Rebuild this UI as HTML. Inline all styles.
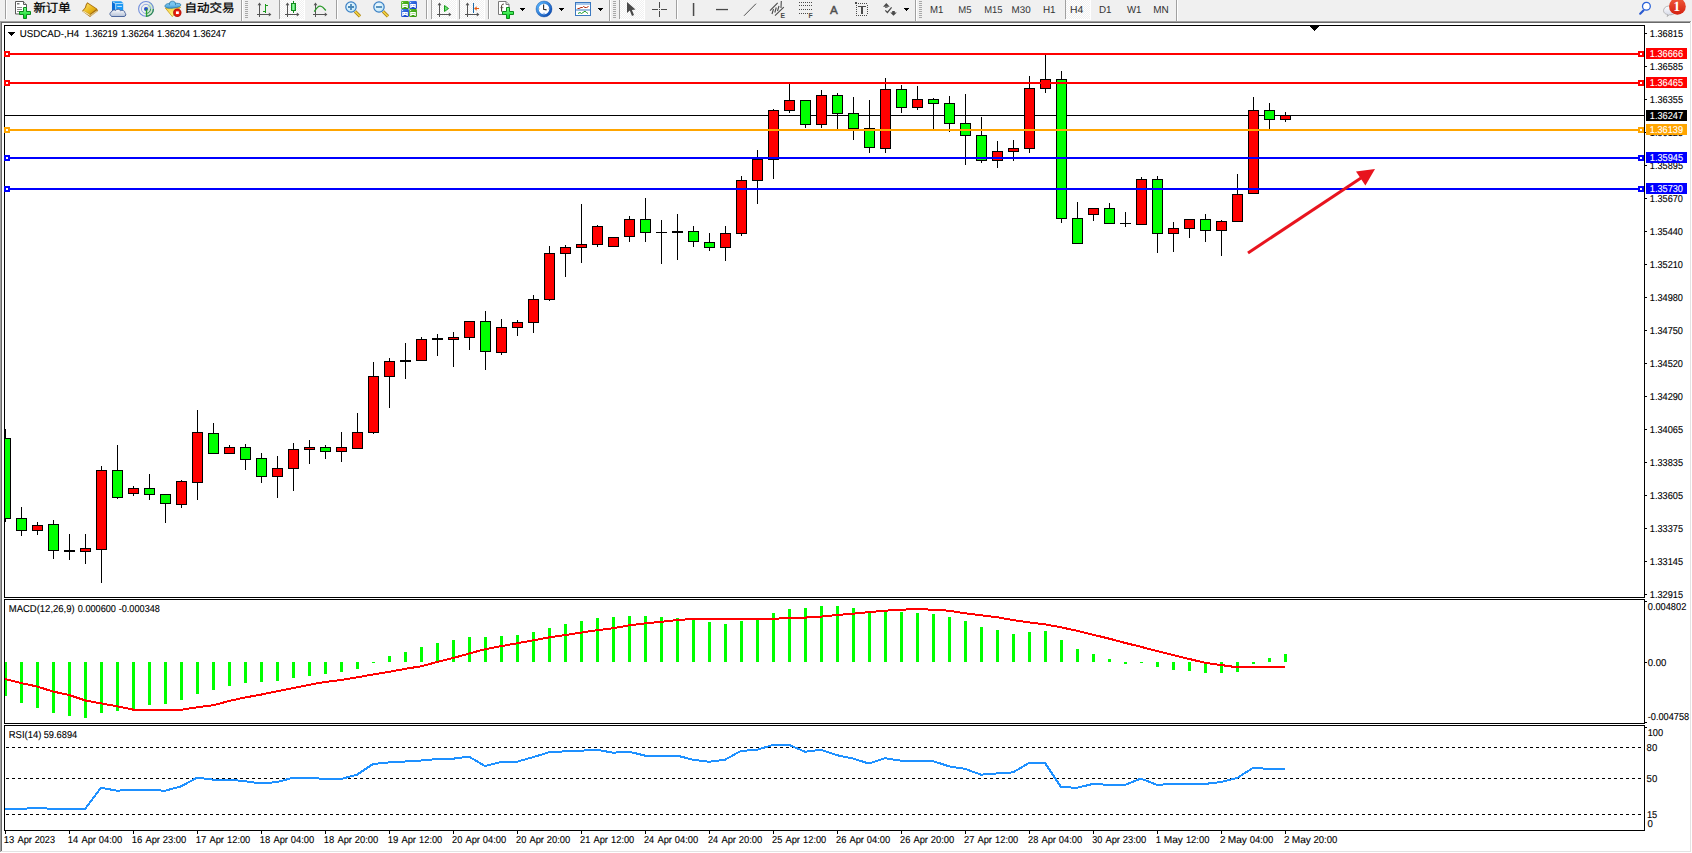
<!DOCTYPE html>
<html><head><meta charset="utf-8"><title>USDCAD-,H4</title>
<style>
html,body{margin:0;padding:0;background:#fff;}
body{width:1692px;height:853px;position:relative;overflow:hidden;font-family:"Liberation Sans", "Noto Sans CJK SC", sans-serif;}
#tb{position:absolute;left:0;top:0;width:1692px;height:21px;background:#f0f0f0;}
</style></head><body>
<svg id="chart" width="1692" height="853" viewBox="0 0 1692 853" style="position:absolute;left:0;top:0">
<defs><clipPath id="cm"><rect x="5" y="26" width="1639" height="571"/></clipPath><clipPath id="cd"><rect x="5" y="600" width="1639" height="123"/></clipPath><clipPath id="cr"><rect x="5" y="726" width="1639" height="104"/></clipPath></defs>
<g shape-rendering="crispEdges">
<rect x="0" y="21" width="1692" height="832" fill="#fff"/>
<rect x="0" y="21" width="1691" height="1" fill="#a0a0a0"/>
<rect x="0" y="21" width="1" height="831" fill="#a0a0a0"/>
<rect x="1" y="22" width="1689" height="1" fill="#696969"/>
<rect x="1" y="22" width="1" height="829" fill="#696969"/>
<rect x="1690" y="22" width="1" height="830" fill="#e3e3e3"/>
<rect x="1" y="851" width="1690" height="1" fill="#e3e3e3"/>
<rect x="4" y="25" width="1641" height="1" fill="#000"/>
<rect x="4" y="597" width="1641" height="1" fill="#000"/>
<rect x="4" y="25" width="1" height="573" fill="#000"/>
<rect x="1644" y="25" width="1" height="573" fill="#000"/>
<rect x="4" y="599" width="1641" height="1" fill="#000"/>
<rect x="4" y="723" width="1641" height="1" fill="#000"/>
<rect x="4" y="599" width="1" height="125" fill="#000"/>
<rect x="1644" y="599" width="1" height="125" fill="#000"/>
<rect x="4" y="725" width="1641" height="1" fill="#000"/>
<rect x="4" y="830" width="1641" height="1" fill="#000"/>
<rect x="4" y="725" width="1" height="106" fill="#000"/>
<rect x="1644" y="725" width="1" height="106" fill="#000"/>
<g clip-path="url(#cm)">
<rect x="5" y="115" width="1639" height="1" fill="#000"/>
<rect x="5" y="429" width="1" height="93" fill="#000"/>
<rect x="0" y="438" width="11" height="81" fill="#000"/>
<rect x="1" y="439" width="9" height="79" fill="#00ff00"/>
<rect x="21" y="507" width="1" height="29" fill="#000"/>
<rect x="16" y="518" width="11" height="13" fill="#000"/>
<rect x="17" y="519" width="9" height="11" fill="#00ff00"/>
<rect x="37" y="522" width="1" height="13" fill="#000"/>
<rect x="32" y="525" width="11" height="6" fill="#000"/>
<rect x="33" y="526" width="9" height="4" fill="#ff0000"/>
<rect x="53" y="520" width="1" height="39" fill="#000"/>
<rect x="48" y="524" width="11" height="27" fill="#000"/>
<rect x="49" y="525" width="9" height="25" fill="#00ff00"/>
<rect x="69" y="534" width="1" height="26" fill="#000"/>
<rect x="64" y="550" width="11" height="2" fill="#000"/>
<rect x="85" y="534" width="1" height="30" fill="#000"/>
<rect x="80" y="548" width="11" height="4" fill="#000"/>
<rect x="81" y="549" width="9" height="2" fill="#ff0000"/>
<rect x="101" y="466" width="1" height="117" fill="#000"/>
<rect x="96" y="470" width="11" height="80" fill="#000"/>
<rect x="97" y="471" width="9" height="78" fill="#ff0000"/>
<rect x="117" y="445" width="1" height="54" fill="#000"/>
<rect x="112" y="470" width="11" height="28" fill="#000"/>
<rect x="113" y="471" width="9" height="26" fill="#00ff00"/>
<rect x="133" y="486" width="1" height="10" fill="#000"/>
<rect x="128" y="488" width="11" height="6" fill="#000"/>
<rect x="129" y="489" width="9" height="4" fill="#ff0000"/>
<rect x="149" y="474" width="1" height="26" fill="#000"/>
<rect x="144" y="488" width="11" height="7" fill="#000"/>
<rect x="145" y="489" width="9" height="5" fill="#00ff00"/>
<rect x="165" y="494" width="1" height="29" fill="#000"/>
<rect x="160" y="494" width="11" height="10" fill="#000"/>
<rect x="161" y="495" width="9" height="8" fill="#00ff00"/>
<rect x="181" y="480" width="1" height="28" fill="#000"/>
<rect x="176" y="481" width="11" height="24" fill="#000"/>
<rect x="177" y="482" width="9" height="22" fill="#ff0000"/>
<rect x="197" y="410" width="1" height="90" fill="#000"/>
<rect x="192" y="432" width="11" height="51" fill="#000"/>
<rect x="193" y="433" width="9" height="49" fill="#ff0000"/>
<rect x="213" y="423" width="1" height="31" fill="#000"/>
<rect x="208" y="433" width="11" height="21" fill="#000"/>
<rect x="209" y="434" width="9" height="19" fill="#00ff00"/>
<rect x="229" y="445" width="1" height="9" fill="#000"/>
<rect x="224" y="447" width="11" height="7" fill="#000"/>
<rect x="225" y="448" width="9" height="5" fill="#ff0000"/>
<rect x="245" y="444" width="1" height="26" fill="#000"/>
<rect x="240" y="447" width="11" height="13" fill="#000"/>
<rect x="241" y="448" width="9" height="11" fill="#00ff00"/>
<rect x="261" y="453" width="1" height="30" fill="#000"/>
<rect x="256" y="458" width="11" height="19" fill="#000"/>
<rect x="257" y="459" width="9" height="17" fill="#00ff00"/>
<rect x="277" y="456" width="1" height="42" fill="#000"/>
<rect x="272" y="468" width="11" height="9" fill="#000"/>
<rect x="273" y="469" width="9" height="7" fill="#ff0000"/>
<rect x="293" y="443" width="1" height="48" fill="#000"/>
<rect x="288" y="449" width="11" height="20" fill="#000"/>
<rect x="289" y="450" width="9" height="18" fill="#ff0000"/>
<rect x="309" y="440" width="1" height="24" fill="#000"/>
<rect x="304" y="447" width="11" height="3" fill="#000"/>
<rect x="305" y="448" width="9" height="1" fill="#ff0000"/>
<rect x="325" y="445" width="1" height="14" fill="#000"/>
<rect x="320" y="447" width="11" height="5" fill="#000"/>
<rect x="321" y="448" width="9" height="3" fill="#00ff00"/>
<rect x="341" y="432" width="1" height="30" fill="#000"/>
<rect x="336" y="447" width="11" height="5" fill="#000"/>
<rect x="337" y="448" width="9" height="3" fill="#ff0000"/>
<rect x="357" y="413" width="1" height="36" fill="#000"/>
<rect x="352" y="432" width="11" height="17" fill="#000"/>
<rect x="353" y="433" width="9" height="15" fill="#ff0000"/>
<rect x="373" y="362" width="1" height="72" fill="#000"/>
<rect x="368" y="376" width="11" height="57" fill="#000"/>
<rect x="369" y="377" width="9" height="55" fill="#ff0000"/>
<rect x="389" y="358" width="1" height="50" fill="#000"/>
<rect x="384" y="361" width="11" height="16" fill="#000"/>
<rect x="385" y="362" width="9" height="14" fill="#ff0000"/>
<rect x="405" y="343" width="1" height="36" fill="#000"/>
<rect x="400" y="360" width="11" height="2" fill="#000"/>
<rect x="421" y="337" width="1" height="24" fill="#000"/>
<rect x="416" y="339" width="11" height="22" fill="#000"/>
<rect x="417" y="340" width="9" height="20" fill="#ff0000"/>
<rect x="437" y="334" width="1" height="22" fill="#000"/>
<rect x="432" y="338" width="11" height="2" fill="#000"/>
<rect x="453" y="332" width="1" height="35" fill="#000"/>
<rect x="448" y="337" width="11" height="3" fill="#000"/>
<rect x="449" y="338" width="9" height="1" fill="#ff0000"/>
<rect x="469" y="321" width="1" height="29" fill="#000"/>
<rect x="464" y="321" width="11" height="17" fill="#000"/>
<rect x="465" y="322" width="9" height="15" fill="#ff0000"/>
<rect x="485" y="311" width="1" height="59" fill="#000"/>
<rect x="480" y="321" width="11" height="31" fill="#000"/>
<rect x="481" y="322" width="9" height="29" fill="#00ff00"/>
<rect x="501" y="319" width="1" height="36" fill="#000"/>
<rect x="496" y="327" width="11" height="26" fill="#000"/>
<rect x="497" y="328" width="9" height="24" fill="#ff0000"/>
<rect x="517" y="320" width="1" height="16" fill="#000"/>
<rect x="512" y="322" width="11" height="6" fill="#000"/>
<rect x="513" y="323" width="9" height="4" fill="#ff0000"/>
<rect x="533" y="295" width="1" height="38" fill="#000"/>
<rect x="528" y="299" width="11" height="24" fill="#000"/>
<rect x="529" y="300" width="9" height="22" fill="#ff0000"/>
<rect x="549" y="246" width="1" height="55" fill="#000"/>
<rect x="544" y="253" width="11" height="47" fill="#000"/>
<rect x="545" y="254" width="9" height="45" fill="#ff0000"/>
<rect x="565" y="245" width="1" height="32" fill="#000"/>
<rect x="560" y="247" width="11" height="7" fill="#000"/>
<rect x="561" y="248" width="9" height="5" fill="#ff0000"/>
<rect x="581" y="204" width="1" height="59" fill="#000"/>
<rect x="576" y="244" width="11" height="4" fill="#000"/>
<rect x="577" y="245" width="9" height="2" fill="#ff0000"/>
<rect x="597" y="225" width="1" height="22" fill="#000"/>
<rect x="592" y="226" width="11" height="19" fill="#000"/>
<rect x="593" y="227" width="9" height="17" fill="#ff0000"/>
<rect x="613" y="237" width="1" height="10" fill="#000"/>
<rect x="608" y="237" width="11" height="10" fill="#000"/>
<rect x="609" y="238" width="9" height="8" fill="#ff0000"/>
<rect x="629" y="216" width="1" height="26" fill="#000"/>
<rect x="624" y="219" width="11" height="18" fill="#000"/>
<rect x="625" y="220" width="9" height="16" fill="#ff0000"/>
<rect x="645" y="198" width="1" height="44" fill="#000"/>
<rect x="640" y="219" width="11" height="14" fill="#000"/>
<rect x="641" y="220" width="9" height="12" fill="#00ff00"/>
<rect x="661" y="220" width="1" height="44" fill="#000"/>
<rect x="656" y="232" width="11" height="1" fill="#000"/>
<rect x="677" y="214" width="1" height="46" fill="#000"/>
<rect x="672" y="231" width="11" height="2" fill="#000"/>
<rect x="693" y="226" width="1" height="21" fill="#000"/>
<rect x="688" y="231" width="11" height="11" fill="#000"/>
<rect x="689" y="232" width="9" height="9" fill="#00ff00"/>
<rect x="709" y="233" width="1" height="18" fill="#000"/>
<rect x="704" y="242" width="11" height="6" fill="#000"/>
<rect x="705" y="243" width="9" height="4" fill="#00ff00"/>
<rect x="725" y="226" width="1" height="35" fill="#000"/>
<rect x="720" y="233" width="11" height="15" fill="#000"/>
<rect x="721" y="234" width="9" height="13" fill="#ff0000"/>
<rect x="741" y="176" width="1" height="60" fill="#000"/>
<rect x="736" y="180" width="11" height="54" fill="#000"/>
<rect x="737" y="181" width="9" height="52" fill="#ff0000"/>
<rect x="757" y="150" width="1" height="54" fill="#000"/>
<rect x="752" y="159" width="11" height="22" fill="#000"/>
<rect x="753" y="160" width="9" height="20" fill="#ff0000"/>
<rect x="773" y="109" width="1" height="70" fill="#000"/>
<rect x="768" y="110" width="11" height="50" fill="#000"/>
<rect x="769" y="111" width="9" height="48" fill="#ff0000"/>
<rect x="789" y="84" width="1" height="29" fill="#000"/>
<rect x="784" y="100" width="11" height="11" fill="#000"/>
<rect x="785" y="101" width="9" height="9" fill="#ff0000"/>
<rect x="805" y="100" width="1" height="28" fill="#000"/>
<rect x="800" y="100" width="11" height="25" fill="#000"/>
<rect x="801" y="101" width="9" height="23" fill="#00ff00"/>
<rect x="821" y="90" width="1" height="38" fill="#000"/>
<rect x="816" y="95" width="11" height="30" fill="#000"/>
<rect x="817" y="96" width="9" height="28" fill="#ff0000"/>
<rect x="837" y="93" width="1" height="36" fill="#000"/>
<rect x="832" y="95" width="11" height="19" fill="#000"/>
<rect x="833" y="96" width="9" height="17" fill="#00ff00"/>
<rect x="853" y="97" width="1" height="43" fill="#000"/>
<rect x="848" y="113" width="11" height="16" fill="#000"/>
<rect x="849" y="114" width="9" height="14" fill="#00ff00"/>
<rect x="869" y="100" width="1" height="53" fill="#000"/>
<rect x="864" y="128" width="11" height="20" fill="#000"/>
<rect x="865" y="129" width="9" height="18" fill="#00ff00"/>
<rect x="885" y="78" width="1" height="75" fill="#000"/>
<rect x="880" y="89" width="11" height="60" fill="#000"/>
<rect x="881" y="90" width="9" height="58" fill="#ff0000"/>
<rect x="901" y="85" width="1" height="28" fill="#000"/>
<rect x="896" y="89" width="11" height="19" fill="#000"/>
<rect x="897" y="90" width="9" height="17" fill="#00ff00"/>
<rect x="917" y="86" width="1" height="24" fill="#000"/>
<rect x="912" y="99" width="11" height="9" fill="#000"/>
<rect x="913" y="100" width="9" height="7" fill="#ff0000"/>
<rect x="933" y="98" width="1" height="31" fill="#000"/>
<rect x="928" y="99" width="11" height="5" fill="#000"/>
<rect x="929" y="100" width="9" height="3" fill="#00ff00"/>
<rect x="949" y="96" width="1" height="36" fill="#000"/>
<rect x="944" y="103" width="11" height="21" fill="#000"/>
<rect x="945" y="104" width="9" height="19" fill="#00ff00"/>
<rect x="965" y="94" width="1" height="71" fill="#000"/>
<rect x="960" y="123" width="11" height="13" fill="#000"/>
<rect x="961" y="124" width="9" height="11" fill="#00ff00"/>
<rect x="981" y="117" width="1" height="46" fill="#000"/>
<rect x="976" y="135" width="11" height="26" fill="#000"/>
<rect x="977" y="136" width="9" height="24" fill="#00ff00"/>
<rect x="997" y="141" width="1" height="27" fill="#000"/>
<rect x="992" y="151" width="11" height="10" fill="#000"/>
<rect x="993" y="152" width="9" height="8" fill="#ff0000"/>
<rect x="1013" y="140" width="1" height="21" fill="#000"/>
<rect x="1008" y="148" width="11" height="4" fill="#000"/>
<rect x="1009" y="149" width="9" height="2" fill="#ff0000"/>
<rect x="1029" y="76" width="1" height="77" fill="#000"/>
<rect x="1024" y="88" width="11" height="61" fill="#000"/>
<rect x="1025" y="89" width="9" height="59" fill="#ff0000"/>
<rect x="1045" y="55" width="1" height="38" fill="#000"/>
<rect x="1040" y="79" width="11" height="10" fill="#000"/>
<rect x="1041" y="80" width="9" height="8" fill="#ff0000"/>
<rect x="1061" y="71" width="1" height="152" fill="#000"/>
<rect x="1056" y="79" width="11" height="140" fill="#000"/>
<rect x="1057" y="80" width="9" height="138" fill="#00ff00"/>
<rect x="1077" y="202" width="1" height="42" fill="#000"/>
<rect x="1072" y="218" width="11" height="26" fill="#000"/>
<rect x="1073" y="219" width="9" height="24" fill="#00ff00"/>
<rect x="1093" y="208" width="1" height="13" fill="#000"/>
<rect x="1088" y="208" width="11" height="7" fill="#000"/>
<rect x="1089" y="209" width="9" height="5" fill="#ff0000"/>
<rect x="1109" y="203" width="1" height="21" fill="#000"/>
<rect x="1104" y="208" width="11" height="16" fill="#000"/>
<rect x="1105" y="209" width="9" height="14" fill="#00ff00"/>
<rect x="1125" y="212" width="1" height="15" fill="#000"/>
<rect x="1120" y="223" width="11" height="1" fill="#000"/>
<rect x="1141" y="177" width="1" height="48" fill="#000"/>
<rect x="1136" y="179" width="11" height="46" fill="#000"/>
<rect x="1137" y="180" width="9" height="44" fill="#ff0000"/>
<rect x="1157" y="176" width="1" height="77" fill="#000"/>
<rect x="1152" y="179" width="11" height="55" fill="#000"/>
<rect x="1153" y="180" width="9" height="53" fill="#00ff00"/>
<rect x="1173" y="222" width="1" height="30" fill="#000"/>
<rect x="1168" y="228" width="11" height="6" fill="#000"/>
<rect x="1169" y="229" width="9" height="4" fill="#ff0000"/>
<rect x="1189" y="219" width="1" height="19" fill="#000"/>
<rect x="1184" y="219" width="11" height="10" fill="#000"/>
<rect x="1185" y="220" width="9" height="8" fill="#ff0000"/>
<rect x="1205" y="214" width="1" height="28" fill="#000"/>
<rect x="1200" y="219" width="11" height="12" fill="#000"/>
<rect x="1201" y="220" width="9" height="10" fill="#00ff00"/>
<rect x="1221" y="220" width="1" height="36" fill="#000"/>
<rect x="1216" y="221" width="11" height="10" fill="#000"/>
<rect x="1217" y="222" width="9" height="8" fill="#ff0000"/>
<rect x="1237" y="174" width="1" height="48" fill="#000"/>
<rect x="1232" y="194" width="11" height="28" fill="#000"/>
<rect x="1233" y="195" width="9" height="26" fill="#ff0000"/>
<rect x="1253" y="97" width="1" height="97" fill="#000"/>
<rect x="1248" y="110" width="11" height="84" fill="#000"/>
<rect x="1249" y="111" width="9" height="82" fill="#ff0000"/>
<rect x="1269" y="103" width="1" height="26" fill="#000"/>
<rect x="1264" y="110" width="11" height="10" fill="#000"/>
<rect x="1265" y="111" width="9" height="8" fill="#00ff00"/>
<rect x="1285" y="112" width="1" height="10" fill="#000"/>
<rect x="1280" y="115" width="11" height="5" fill="#000"/>
<rect x="1281" y="116" width="9" height="3" fill="#ff0000"/>
<rect x="5" y="53" width="1639" height="2" fill="#ff0000"/>
<rect x="4" y="51" width="6" height="6" fill="#ff0000"/>
<rect x="6" y="53" width="2" height="2" fill="#fff"/>
<rect x="1638" y="51" width="6" height="6" fill="#ff0000"/>
<rect x="1640" y="53" width="2" height="2" fill="#fff"/>
<rect x="5" y="82" width="1639" height="2" fill="#ff0000"/>
<rect x="4" y="80" width="6" height="6" fill="#ff0000"/>
<rect x="6" y="82" width="2" height="2" fill="#fff"/>
<rect x="1638" y="80" width="6" height="6" fill="#ff0000"/>
<rect x="1640" y="82" width="2" height="2" fill="#fff"/>
<rect x="5" y="129" width="1639" height="2" fill="#ffa500"/>
<rect x="4" y="127" width="6" height="6" fill="#ffa500"/>
<rect x="6" y="129" width="2" height="2" fill="#fff"/>
<rect x="1638" y="127" width="6" height="6" fill="#ffa500"/>
<rect x="1640" y="129" width="2" height="2" fill="#fff"/>
<rect x="5" y="157" width="1639" height="2" fill="#0000ff"/>
<rect x="4" y="155" width="6" height="6" fill="#0000ff"/>
<rect x="6" y="157" width="2" height="2" fill="#fff"/>
<rect x="1638" y="155" width="6" height="6" fill="#0000ff"/>
<rect x="1640" y="157" width="2" height="2" fill="#fff"/>
<rect x="5" y="188" width="1639" height="2" fill="#0000ff"/>
<rect x="4" y="186" width="6" height="6" fill="#0000ff"/>
<rect x="6" y="188" width="2" height="2" fill="#fff"/>
<rect x="1638" y="186" width="6" height="6" fill="#0000ff"/>
<rect x="1640" y="188" width="2" height="2" fill="#fff"/>
</g>
<rect x="4" y="51" width="6" height="6" fill="#ff0000"/>
<rect x="6" y="53" width="2" height="2" fill="#fff"/>
<rect x="4" y="80" width="6" height="6" fill="#ff0000"/>
<rect x="6" y="82" width="2" height="2" fill="#fff"/>
<rect x="4" y="127" width="6" height="6" fill="#ffa500"/>
<rect x="6" y="129" width="2" height="2" fill="#fff"/>
<rect x="4" y="155" width="6" height="6" fill="#0000ff"/>
<rect x="6" y="157" width="2" height="2" fill="#fff"/>
<rect x="4" y="186" width="6" height="6" fill="#0000ff"/>
<rect x="6" y="188" width="2" height="2" fill="#fff"/>
<rect x="1310" y="26" width="9" height="1" fill="#000"/><rect x="1311" y="27" width="7" height="1" fill="#000"/><rect x="1312" y="28" width="5" height="1" fill="#000"/><rect x="1313" y="29" width="3" height="1" fill="#000"/><rect x="1314" y="30" width="1" height="1" fill="#000"/>
<rect x="8" y="32" width="7" height="1" fill="#000"/><rect x="9" y="33" width="5" height="1" fill="#000"/><rect x="10" y="34" width="3" height="1" fill="#000"/><rect x="11" y="35" width="1" height="1" fill="#000"/>
<rect x="1645" y="33" width="2" height="1" fill="#000"/>
<rect x="1645" y="66" width="2" height="1" fill="#000"/>
<rect x="1645" y="99" width="2" height="1" fill="#000"/>
<rect x="1645" y="132" width="2" height="1" fill="#000"/>
<rect x="1645" y="165" width="2" height="1" fill="#000"/>
<rect x="1645" y="198" width="2" height="1" fill="#000"/>
<rect x="1645" y="231" width="2" height="1" fill="#000"/>
<rect x="1645" y="264" width="2" height="1" fill="#000"/>
<rect x="1645" y="297" width="2" height="1" fill="#000"/>
<rect x="1645" y="330" width="2" height="1" fill="#000"/>
<rect x="1645" y="363" width="2" height="1" fill="#000"/>
<rect x="1645" y="396" width="2" height="1" fill="#000"/>
<rect x="1645" y="429" width="2" height="1" fill="#000"/>
<rect x="1645" y="462" width="2" height="1" fill="#000"/>
<rect x="1645" y="495" width="2" height="1" fill="#000"/>
<rect x="1645" y="528" width="2" height="1" fill="#000"/>
<rect x="1645" y="561" width="2" height="1" fill="#000"/>
<rect x="1645" y="594" width="2" height="1" fill="#000"/>
<g clip-path="url(#cd)">
<rect x="4" y="662" width="3" height="34" fill="#00ff00"/>
<rect x="20" y="662" width="3" height="41" fill="#00ff00"/>
<rect x="36" y="662" width="3" height="46" fill="#00ff00"/>
<rect x="52" y="662" width="3" height="51" fill="#00ff00"/>
<rect x="68" y="662" width="3" height="54" fill="#00ff00"/>
<rect x="84" y="662" width="3" height="56" fill="#00ff00"/>
<rect x="100" y="662" width="3" height="51" fill="#00ff00"/>
<rect x="116" y="662" width="3" height="49" fill="#00ff00"/>
<rect x="132" y="662" width="3" height="47" fill="#00ff00"/>
<rect x="148" y="662" width="3" height="43" fill="#00ff00"/>
<rect x="164" y="662" width="3" height="42" fill="#00ff00"/>
<rect x="180" y="662" width="3" height="38" fill="#00ff00"/>
<rect x="196" y="662" width="3" height="32" fill="#00ff00"/>
<rect x="212" y="662" width="3" height="28" fill="#00ff00"/>
<rect x="228" y="662" width="3" height="24" fill="#00ff00"/>
<rect x="244" y="662" width="3" height="21" fill="#00ff00"/>
<rect x="260" y="662" width="3" height="20" fill="#00ff00"/>
<rect x="276" y="662" width="3" height="19" fill="#00ff00"/>
<rect x="292" y="662" width="3" height="16" fill="#00ff00"/>
<rect x="308" y="662" width="3" height="14" fill="#00ff00"/>
<rect x="324" y="662" width="3" height="12" fill="#00ff00"/>
<rect x="340" y="662" width="3" height="10" fill="#00ff00"/>
<rect x="356" y="662" width="3" height="7" fill="#00ff00"/>
<rect x="372" y="662" width="3" height="1" fill="#00ff00"/>
<rect x="388" y="656" width="3" height="6" fill="#00ff00"/>
<rect x="404" y="652" width="3" height="10" fill="#00ff00"/>
<rect x="420" y="647" width="3" height="15" fill="#00ff00"/>
<rect x="436" y="643" width="3" height="19" fill="#00ff00"/>
<rect x="452" y="640" width="3" height="22" fill="#00ff00"/>
<rect x="468" y="637" width="3" height="25" fill="#00ff00"/>
<rect x="484" y="637" width="3" height="25" fill="#00ff00"/>
<rect x="500" y="636" width="3" height="26" fill="#00ff00"/>
<rect x="516" y="635" width="3" height="27" fill="#00ff00"/>
<rect x="532" y="632" width="3" height="30" fill="#00ff00"/>
<rect x="548" y="628" width="3" height="34" fill="#00ff00"/>
<rect x="564" y="624" width="3" height="38" fill="#00ff00"/>
<rect x="580" y="621" width="3" height="41" fill="#00ff00"/>
<rect x="596" y="618" width="3" height="44" fill="#00ff00"/>
<rect x="612" y="617" width="3" height="45" fill="#00ff00"/>
<rect x="628" y="616" width="3" height="46" fill="#00ff00"/>
<rect x="644" y="616" width="3" height="46" fill="#00ff00"/>
<rect x="660" y="617" width="3" height="45" fill="#00ff00"/>
<rect x="676" y="618" width="3" height="44" fill="#00ff00"/>
<rect x="692" y="619" width="3" height="43" fill="#00ff00"/>
<rect x="708" y="622" width="3" height="40" fill="#00ff00"/>
<rect x="724" y="624" width="3" height="38" fill="#00ff00"/>
<rect x="740" y="621" width="3" height="41" fill="#00ff00"/>
<rect x="756" y="619" width="3" height="43" fill="#00ff00"/>
<rect x="772" y="613" width="3" height="49" fill="#00ff00"/>
<rect x="788" y="609" width="3" height="53" fill="#00ff00"/>
<rect x="804" y="608" width="3" height="54" fill="#00ff00"/>
<rect x="820" y="606" width="3" height="56" fill="#00ff00"/>
<rect x="836" y="606" width="3" height="56" fill="#00ff00"/>
<rect x="852" y="608" width="3" height="54" fill="#00ff00"/>
<rect x="868" y="612" width="3" height="50" fill="#00ff00"/>
<rect x="884" y="611" width="3" height="51" fill="#00ff00"/>
<rect x="900" y="612" width="3" height="50" fill="#00ff00"/>
<rect x="916" y="613" width="3" height="49" fill="#00ff00"/>
<rect x="932" y="614" width="3" height="48" fill="#00ff00"/>
<rect x="948" y="617" width="3" height="45" fill="#00ff00"/>
<rect x="964" y="621" width="3" height="41" fill="#00ff00"/>
<rect x="980" y="627" width="3" height="35" fill="#00ff00"/>
<rect x="996" y="630" width="3" height="32" fill="#00ff00"/>
<rect x="1012" y="634" width="3" height="28" fill="#00ff00"/>
<rect x="1028" y="632" width="3" height="30" fill="#00ff00"/>
<rect x="1044" y="631" width="3" height="31" fill="#00ff00"/>
<rect x="1060" y="640" width="3" height="22" fill="#00ff00"/>
<rect x="1076" y="649" width="3" height="13" fill="#00ff00"/>
<rect x="1092" y="654" width="3" height="8" fill="#00ff00"/>
<rect x="1108" y="659" width="3" height="3" fill="#00ff00"/>
<rect x="1124" y="662" width="3" height="2" fill="#00ff00"/>
<rect x="1140" y="662" width="3" height="1" fill="#00ff00"/>
<rect x="1156" y="662" width="3" height="5" fill="#00ff00"/>
<rect x="1172" y="662" width="3" height="8" fill="#00ff00"/>
<rect x="1188" y="662" width="3" height="9" fill="#00ff00"/>
<rect x="1204" y="662" width="3" height="11" fill="#00ff00"/>
<rect x="1220" y="662" width="3" height="11" fill="#00ff00"/>
<rect x="1236" y="662" width="3" height="10" fill="#00ff00"/>
<rect x="1252" y="662" width="3" height="2" fill="#00ff00"/>
<rect x="1268" y="658" width="3" height="4" fill="#00ff00"/>
<rect x="1284" y="654" width="3" height="8" fill="#00ff00"/>
</g>
<rect x="1645" y="601" width="2" height="1" fill="#000"/>
<rect x="1645" y="662" width="2" height="1" fill="#000"/>
<rect x="1645" y="722" width="2" height="1" fill="#000"/>
<line x1="6" y1="747.5" x2="1642" y2="747.5" stroke="#000" stroke-width="1" stroke-dasharray="3 3"/>
<line x1="6" y1="778.5" x2="1642" y2="778.5" stroke="#000" stroke-width="1" stroke-dasharray="3 3"/>
<line x1="6" y1="814.5" x2="1642" y2="814.5" stroke="#000" stroke-width="1" stroke-dasharray="3 3"/>
<rect x="1645" y="727" width="2" height="1" fill="#000"/>
<rect x="5" y="831" width="1" height="3" fill="#000"/>
<rect x="69" y="831" width="1" height="3" fill="#000"/>
<rect x="133" y="831" width="1" height="3" fill="#000"/>
<rect x="197" y="831" width="1" height="3" fill="#000"/>
<rect x="261" y="831" width="1" height="3" fill="#000"/>
<rect x="325" y="831" width="1" height="3" fill="#000"/>
<rect x="389" y="831" width="1" height="3" fill="#000"/>
<rect x="453" y="831" width="1" height="3" fill="#000"/>
<rect x="517" y="831" width="1" height="3" fill="#000"/>
<rect x="581" y="831" width="1" height="3" fill="#000"/>
<rect x="645" y="831" width="1" height="3" fill="#000"/>
<rect x="709" y="831" width="1" height="3" fill="#000"/>
<rect x="773" y="831" width="1" height="3" fill="#000"/>
<rect x="837" y="831" width="1" height="3" fill="#000"/>
<rect x="901" y="831" width="1" height="3" fill="#000"/>
<rect x="965" y="831" width="1" height="3" fill="#000"/>
<rect x="1029" y="831" width="1" height="3" fill="#000"/>
<rect x="1093" y="831" width="1" height="3" fill="#000"/>
<rect x="1157" y="831" width="1" height="3" fill="#000"/>
<rect x="1221" y="831" width="1" height="3" fill="#000"/>
<rect x="1285" y="831" width="1" height="3" fill="#000"/>
</g>
<g clip-path="url(#cd)"><polyline points="5,679 21,683 37,686.5 53,691.5 69,695 85,700.4 101,703.4 117,706.3 133,709.6 149,709.8 165,709.8 181,709.8 197,707.3 213,705.3 229,701 245,697.5 261,694.6 277,691.3 293,688.2 309,684.8 325,682 341,680 357,677.4 373,674.5 389,671.8 405,668.9 421,666.3 437,662 453,658.1 469,653.6 485,649.2 501,646.2 517,643.3 533,640.4 549,637.4 565,635.1 581,632.6 597,630.2 613,628.3 629,625.4 645,623.4 661,621.8 677,620.1 693,618.9 709,618.9 725,618.9 741,618.9 757,618.9 773,618.9 789,617.9 805,617.6 821,616.6 837,615 853,613.7 869,612.1 885,610.7 901,609.8 917,608.8 933,609.8 949,610.7 965,613.3 981,615.2 997,617.2 1013,620.1 1029,622.4 1045,624.4 1061,627.3 1077,630.8 1093,634.7 1109,638.6 1125,642.9 1141,646.8 1157,651.1 1173,655 1189,658.9 1205,662.8 1221,665 1237,667.3 1253,667.3 1269,667 1285,666.7" fill="none" stroke="#ff0000" stroke-width="2" stroke-linejoin="round" shape-rendering="crispEdges"/></g>
<g clip-path="url(#cr)"><polyline points="5,808.9 21,808.9 37,807.9 53,808.9 69,808.9 85,808.9 101,787.8 117,790.7 133,789.8 149,790 165,790.7 181,786.4 197,777.7 213,779.6 229,779.6 245,781.2 261,783.5 277,782.1 293,777.7 309,777.7 325,779 341,779 357,774.7 373,764 389,762.4 405,761.5 421,760.5 437,759.1 453,758.7 469,756.6 485,766 501,762.1 517,761.7 533,757.2 549,752.3 565,751.3 581,750.7 597,749.8 613,752.7 629,751.7 645,755.6 661,755.6 677,755.6 693,759.7 709,761.7 725,759.7 741,750.9 757,749.8 773,744.9 789,744.9 805,751.7 821,749.8 837,755.2 853,758.5 869,763.6 885,758.2 901,760.7 917,760.7 933,761.1 949,766.3 965,768.9 981,774.7 997,773.4 1013,772.4 1029,763 1045,763 1061,787 1077,787.8 1093,783.9 1109,784.9 1125,784.9 1141,778.6 1157,784.9 1173,783.9 1189,783.9 1205,783.9 1221,782.1 1237,778.1 1253,767.9 1269,768.9 1285,768.9" fill="none" stroke="#1e90ff" stroke-width="2" stroke-linejoin="round" shape-rendering="crispEdges"/></g>
<line x1="1248" y1="253" x2="1361" y2="178" stroke="#e8141e" stroke-width="3"/>
<polygon points="1356,171.4 1375,169 1365.4,185.5" fill="#e8141e"/>
<g font-family='"Liberation Sans", "Noto Sans CJK SC", sans-serif' font-size="10.0" text-rendering="geometricPrecision" stroke-width="0.12" stroke="currentColor">
<text transform="translate(19.85,37) scale(0.9691,1.0)" xml:space="preserve">USDCAD-,H4</text>
<text transform="translate(84.91,37) scale(0.9051,1.0)" xml:space="preserve">1.36219</text>
<text transform="translate(120.90,37) scale(0.9176,1.0)" xml:space="preserve">1.36264</text>
<text transform="translate(157.00,37) scale(0.9147,1.0)" xml:space="preserve">1.36204</text>
<text transform="translate(192.70,37) scale(0.9231,1.0)" xml:space="preserve">1.36247</text>
<text transform="translate(8.72,612) scale(0.9496,1.0)" xml:space="preserve">MACD(12,26,9)</text>
<text transform="translate(77.74,612) scale(0.9162,1.0)" xml:space="preserve">0.000600</text>
<text transform="translate(118.69,612) scale(0.9149,1.0)" xml:space="preserve">-0.000348</text>
<text transform="translate(8.72,738) scale(0.9481,1.0)" xml:space="preserve">RSI(14)</text>
<text transform="translate(43.73,738) scale(0.9251,1.0)" xml:space="preserve">59.6894</text>
<text transform="translate(1649.80,37) scale(0.9180,1.0)" xml:space="preserve">1.36815</text>
<text transform="translate(1649.80,70) scale(0.9180,1.0)" xml:space="preserve">1.36585</text>
<text transform="translate(1649.80,103) scale(0.9180,1.0)" xml:space="preserve">1.36355</text>
<text transform="translate(1649.80,136) scale(0.9180,1.0)" xml:space="preserve">1.36125</text>
<text transform="translate(1649.80,169) scale(0.9180,1.0)" xml:space="preserve">1.35895</text>
<text transform="translate(1649.80,202) scale(0.9173,1.0)" xml:space="preserve">1.35670</text>
<text transform="translate(1649.80,235) scale(0.9173,1.0)" xml:space="preserve">1.35440</text>
<text transform="translate(1649.80,268) scale(0.9173,1.0)" xml:space="preserve">1.35210</text>
<text transform="translate(1649.80,301) scale(0.9173,1.0)" xml:space="preserve">1.34980</text>
<text transform="translate(1649.80,334) scale(0.9173,1.0)" xml:space="preserve">1.34750</text>
<text transform="translate(1649.80,367) scale(0.9173,1.0)" xml:space="preserve">1.34520</text>
<text transform="translate(1649.80,400) scale(0.9173,1.0)" xml:space="preserve">1.34290</text>
<text transform="translate(1649.80,433) scale(0.9180,1.0)" xml:space="preserve">1.34065</text>
<text transform="translate(1649.80,466) scale(0.9180,1.0)" xml:space="preserve">1.33835</text>
<text transform="translate(1649.80,499) scale(0.9180,1.0)" xml:space="preserve">1.33605</text>
<text transform="translate(1649.80,532) scale(0.9180,1.0)" xml:space="preserve">1.33375</text>
<text transform="translate(1649.80,565) scale(0.9180,1.0)" xml:space="preserve">1.33145</text>
<text transform="translate(1649.80,598) scale(0.9180,1.0)" xml:space="preserve">1.32915</text>
<text transform="translate(1647.74,610) scale(0.9237,1.0)" xml:space="preserve">0.004802</text>
<text transform="translate(1647.73,666) scale(0.9528,1.0)" xml:space="preserve">0.00</text>
<text transform="translate(1647.69,720) scale(0.9216,1.0)" xml:space="preserve">-0.004758</text>
<text transform="translate(1647.69,736) scale(0.9271,1.0)" xml:space="preserve">100</text>
<text transform="translate(1646.59,751) scale(0.9517,1.0)" xml:space="preserve">80</text>
<text transform="translate(1646.62,782) scale(0.9582,1.0)" xml:space="preserve">50</text>
<text transform="translate(1646.90,818) scale(0.9254,1.0)" xml:space="preserve">15</text>
<text transform="translate(1647.62,827) scale(0.9623,1.0)" xml:space="preserve">0</text>
<text transform="translate(3.78,843) scale(0.9474,1.0)" xml:space="preserve">13</text>
<text transform="translate(17.38,843) scale(0.9365,1.0)" xml:space="preserve">Apr</text>
<text transform="translate(34.74,843) scale(0.9106,1.0)" xml:space="preserve">2023</text>
<text transform="translate(67.79,843) scale(0.9336,1.0)" xml:space="preserve">14</text>
<text transform="translate(81.38,843) scale(0.9365,1.0)" xml:space="preserve">Apr</text>
<text transform="translate(98.83,843) scale(0.9363,1.0)" xml:space="preserve">04:00</text>
<text transform="translate(131.78,843) scale(0.9474,1.0)" xml:space="preserve">16</text>
<text transform="translate(145.38,843) scale(0.9365,1.0)" xml:space="preserve">Apr</text>
<text transform="translate(162.73,843) scale(0.9407,1.0)" xml:space="preserve">23:00</text>
<text transform="translate(195.77,843) scale(0.9535,1.0)" xml:space="preserve">17</text>
<text transform="translate(209.38,843) scale(0.9365,1.0)" xml:space="preserve">Apr</text>
<text transform="translate(227.09,843) scale(0.9258,1.0)" xml:space="preserve">12:00</text>
<text transform="translate(259.78,843) scale(0.9469,1.0)" xml:space="preserve">18</text>
<text transform="translate(273.38,843) scale(0.9365,1.0)" xml:space="preserve">Apr</text>
<text transform="translate(290.83,843) scale(0.9363,1.0)" xml:space="preserve">04:00</text>
<text transform="translate(323.78,843) scale(0.9469,1.0)" xml:space="preserve">18</text>
<text transform="translate(337.38,843) scale(0.9365,1.0)" xml:space="preserve">Apr</text>
<text transform="translate(354.73,843) scale(0.9407,1.0)" xml:space="preserve">20:00</text>
<text transform="translate(387.78,843) scale(0.9507,1.0)" xml:space="preserve">19</text>
<text transform="translate(401.38,843) scale(0.9365,1.0)" xml:space="preserve">Apr</text>
<text transform="translate(419.09,843) scale(0.9258,1.0)" xml:space="preserve">12:00</text>
<text transform="translate(452.04,843) scale(0.9189,1.0)" xml:space="preserve">20</text>
<text transform="translate(465.38,843) scale(0.9365,1.0)" xml:space="preserve">Apr</text>
<text transform="translate(482.83,843) scale(0.9363,1.0)" xml:space="preserve">04:00</text>
<text transform="translate(516.04,843) scale(0.9189,1.0)" xml:space="preserve">20</text>
<text transform="translate(529.38,843) scale(0.9365,1.0)" xml:space="preserve">Apr</text>
<text transform="translate(546.73,843) scale(0.9407,1.0)" xml:space="preserve">20:00</text>
<text transform="translate(580.03,843) scale(0.9278,1.0)" xml:space="preserve">21</text>
<text transform="translate(593.38,843) scale(0.9365,1.0)" xml:space="preserve">Apr</text>
<text transform="translate(611.09,843) scale(0.9258,1.0)" xml:space="preserve">12:00</text>
<text transform="translate(644.04,843) scale(0.9102,1.0)" xml:space="preserve">24</text>
<text transform="translate(657.38,843) scale(0.9365,1.0)" xml:space="preserve">Apr</text>
<text transform="translate(674.83,843) scale(0.9363,1.0)" xml:space="preserve">04:00</text>
<text transform="translate(708.04,843) scale(0.9102,1.0)" xml:space="preserve">24</text>
<text transform="translate(721.38,843) scale(0.9365,1.0)" xml:space="preserve">Apr</text>
<text transform="translate(738.73,843) scale(0.9407,1.0)" xml:space="preserve">20:00</text>
<text transform="translate(772.04,843) scale(0.9216,1.0)" xml:space="preserve">25</text>
<text transform="translate(785.38,843) scale(0.9365,1.0)" xml:space="preserve">Apr</text>
<text transform="translate(803.09,843) scale(0.9258,1.0)" xml:space="preserve">12:00</text>
<text transform="translate(836.04,843) scale(0.9233,1.0)" xml:space="preserve">26</text>
<text transform="translate(849.38,843) scale(0.9365,1.0)" xml:space="preserve">Apr</text>
<text transform="translate(866.83,843) scale(0.9363,1.0)" xml:space="preserve">04:00</text>
<text transform="translate(900.04,843) scale(0.9233,1.0)" xml:space="preserve">26</text>
<text transform="translate(913.38,843) scale(0.9365,1.0)" xml:space="preserve">Apr</text>
<text transform="translate(930.73,843) scale(0.9407,1.0)" xml:space="preserve">20:00</text>
<text transform="translate(964.03,843) scale(0.9291,1.0)" xml:space="preserve">27</text>
<text transform="translate(977.38,843) scale(0.9365,1.0)" xml:space="preserve">Apr</text>
<text transform="translate(995.09,843) scale(0.9258,1.0)" xml:space="preserve">12:00</text>
<text transform="translate(1028.04,843) scale(0.9229,1.0)" xml:space="preserve">28</text>
<text transform="translate(1041.38,843) scale(0.9365,1.0)" xml:space="preserve">Apr</text>
<text transform="translate(1058.83,843) scale(0.9363,1.0)" xml:space="preserve">04:00</text>
<text transform="translate(1092.15,843) scale(0.9081,1.0)" xml:space="preserve">30</text>
<text transform="translate(1105.38,843) scale(0.9365,1.0)" xml:space="preserve">Apr</text>
<text transform="translate(1122.73,843) scale(0.9407,1.0)" xml:space="preserve">23:00</text>
<text transform="translate(1155.78,843) scale(0.9509,1.0)" xml:space="preserve">1</text>
<text transform="translate(1163.77,843) scale(1.0138,1.0)" xml:space="preserve">May</text>
<text transform="translate(1185.89,843) scale(0.9383,1.0)" xml:space="preserve">12:00</text>
<text transform="translate(1220.00,843) scale(0.9878,1.0)" xml:space="preserve">2</text>
<text transform="translate(1227.77,843) scale(1.0138,1.0)" xml:space="preserve">May</text>
<text transform="translate(1249.63,843) scale(0.9487,1.0)" xml:space="preserve">04:00</text>
<text transform="translate(1284.00,843) scale(0.9878,1.0)" xml:space="preserve">2</text>
<text transform="translate(1291.77,843) scale(1.0138,1.0)" xml:space="preserve">May</text>
<text transform="translate(1313.52,843) scale(0.9531,1.0)" xml:space="preserve">20:00</text>
<rect x="1646" y="48" width="41" height="11" fill="#ff0000" stroke="none" shape-rendering="crispEdges"/>
<text transform="translate(1649.80,57) scale(0.9186,1.0)" xml:space="preserve" fill="#fff" color="#fff">1.36666</text>
<rect x="1646" y="77" width="41" height="11" fill="#ff0000" stroke="none" shape-rendering="crispEdges"/>
<text transform="translate(1649.80,86) scale(0.9180,1.0)" xml:space="preserve" fill="#fff" color="#fff">1.36465</text>
<rect x="1646" y="110" width="41" height="11" fill="#000000" stroke="none" shape-rendering="crispEdges"/>
<text transform="translate(1649.80,119) scale(0.9202,1.0)" xml:space="preserve" fill="#fff" color="#fff">1.36247</text>
<rect x="1646" y="124" width="41" height="11" fill="#ffa500" stroke="none" shape-rendering="crispEdges"/>
<text transform="translate(1649.80,133) scale(0.9195,1.0)" xml:space="preserve" fill="#fff" color="#fff">1.36139</text>
<rect x="1646" y="152" width="41" height="11" fill="#0000ff" stroke="none" shape-rendering="crispEdges"/>
<text transform="translate(1649.80,161) scale(0.9180,1.0)" xml:space="preserve" fill="#fff" color="#fff">1.35945</text>
<rect x="1646" y="183" width="41" height="11" fill="#0000ff" stroke="none" shape-rendering="crispEdges"/>
<text transform="translate(1649.80,192) scale(0.9173,1.0)" xml:space="preserve" fill="#fff" color="#fff">1.35730</text>
</g>
</svg>
<div id="tb"><svg width="1692" height="21" viewBox="0 0 1692 21" style="position:absolute;left:0;top:0">
<defs>
<linearGradient id="gplus" x1="0" y1="0" x2="0" y2="1"><stop offset="0" stop-color="#7dff8a"/><stop offset="1" stop-color="#00d41c"/></linearGradient>
<linearGradient id="ggold" x1="0" y1="0" x2="1" y2="1"><stop offset="0" stop-color="#ffe46a"/><stop offset="0.6" stop-color="#e8b418"/><stop offset="1" stop-color="#c08a10"/></linearGradient>
<linearGradient id="gcloud" x1="0" y1="0" x2="0" y2="1"><stop offset="0" stop-color="#ffffff"/><stop offset="1" stop-color="#b4c0d6"/></linearGradient>
<linearGradient id="gbluebox" x1="0" y1="0" x2="1" y2="1"><stop offset="0" stop-color="#1a8cf0"/><stop offset="1" stop-color="#0c6ad8"/></linearGradient>
<linearGradient id="ghat" x1="0" y1="0" x2="0" y2="1"><stop offset="0" stop-color="#8cd0f4"/><stop offset="1" stop-color="#3c9ad6"/></linearGradient>
<linearGradient id="gfun" x1="0" y1="0" x2="0" y2="1"><stop offset="0" stop-color="#f6d040"/><stop offset="1" stop-color="#fff890"/></linearGradient>
<radialGradient id="gstop" cx="0.5" cy="0.5" r="0.5"><stop offset="0.5" stop-color="#f02010"/><stop offset="1" stop-color="#b01008"/></radialGradient>
<radialGradient id="glens" cx="0.4" cy="0.4" r="0.6"><stop offset="0" stop-color="#f4fcff"/><stop offset="1" stop-color="#bfe6f8"/></radialGradient>
<linearGradient id="gcandle" x1="0" y1="0" x2="1" y2="0"><stop offset="0" stop-color="#2fd04a"/><stop offset="0.45" stop-color="#9dffac"/><stop offset="1" stop-color="#1fbf3a"/></linearGradient>
<linearGradient id="gclock" x1="0" y1="0" x2="1" y2="1"><stop offset="0" stop-color="#5ab8ff"/><stop offset="1" stop-color="#0a48b0"/></linearGradient>
<linearGradient id="gbadge" x1="0" y1="0" x2="0" y2="1"><stop offset="0" stop-color="#f05a3a"/><stop offset="1" stop-color="#d42010"/></linearGradient>
<linearGradient id="gbub" x1="0" y1="0" x2="0" y2="1"><stop offset="0" stop-color="#ffffff"/><stop offset="1" stop-color="#d0d4e4"/></linearGradient>
<pattern id="dith" width="2" height="2" patternUnits="userSpaceOnUse"><rect width="2" height="2" fill="#f0f0f0"/><rect width="1" height="1" fill="#fff"/><rect x="1" y="1" width="1" height="1" fill="#fff"/></pattern>
</defs>
<rect width="1692" height="21" fill="#f0f0f0"/>
<g shape-rendering="crispEdges">
<!-- separators: gray + white -->
<rect x="5" y="0" width="1" height="19" fill="#a0a0a0"/><rect x="6" y="0" width="1" height="19" fill="#fff"/>
<rect x="241" y="0" width="1" height="21" fill="#a0a0a0"/><rect x="242" y="0" width="1" height="21" fill="#fff"/>
<rect x="609" y="0" width="1" height="21" fill="#a0a0a0"/><rect x="610" y="0" width="1" height="21" fill="#fff"/>
<rect x="915" y="0" width="1" height="21" fill="#a0a0a0"/><rect x="916" y="0" width="1" height="21" fill="#fff"/>
<rect x="1176" y="0" width="1" height="21" fill="#a0a0a0"/><rect x="1177" y="0" width="1" height="21" fill="#fff"/>
<!-- inner separators -->
<rect x="279" y="0" width="1" height="19" fill="#a0a0a0"/>
<rect x="336" y="0" width="1" height="19" fill="#a0a0a0"/><rect x="337" y="0" width="1" height="19" fill="#fff"/>
<rect x="426" y="0" width="1" height="19" fill="#a0a0a0"/><rect x="427" y="0" width="1" height="19" fill="#fff"/>
<rect x="488" y="0" width="1" height="19" fill="#a0a0a0"/><rect x="489" y="0" width="1" height="19" fill="#fff"/>
<rect x="676" y="0" width="1" height="19" fill="#a0a0a0"/><rect x="677" y="0" width="1" height="19" fill="#fff"/>
<!-- pressed buttons -->
<rect x="280" y="0" width="25" height="20" fill="#fff"/><rect x="280" y="0" width="24" height="19" fill="url(#dith)"/>
<rect x="431" y="0" width="1" height="19" fill="#a0a0a0"/><rect x="432" y="0" width="25" height="20" fill="#fff"/><rect x="432" y="0" width="24" height="19" fill="url(#dith)"/>
<rect x="459" y="0" width="1" height="19" fill="#a0a0a0"/><rect x="460" y="0" width="25" height="20" fill="#fff"/><rect x="460" y="0" width="24" height="19" fill="url(#dith)"/>
<rect x="619" y="0" width="1" height="19" fill="#a0a0a0"/><rect x="620" y="0" width="25" height="20" fill="#fff"/><rect x="620" y="0" width="24" height="19" fill="url(#dith)"/>
<rect x="1065" y="0" width="1" height="19" fill="#a0a0a0"/><rect x="1066" y="0" width="25" height="20" fill="#fff"/><rect x="1066" y="0" width="24" height="19" fill="url(#dith)"/>
<!-- grips -->
<g fill="#a8a8a8">
<rect x="245" y="1" width="3" height="1"/><rect x="245" y="3" width="3" height="1"/><rect x="245" y="5" width="3" height="1"/><rect x="245" y="7" width="3" height="1"/><rect x="245" y="9" width="3" height="1"/><rect x="245" y="11" width="3" height="1"/><rect x="245" y="13" width="3" height="1"/><rect x="245" y="15" width="3" height="1"/><rect x="245" y="17" width="3" height="1"/>
<rect x="613" y="1" width="3" height="1"/><rect x="613" y="3" width="3" height="1"/><rect x="613" y="5" width="3" height="1"/><rect x="613" y="7" width="3" height="1"/><rect x="613" y="9" width="3" height="1"/><rect x="613" y="11" width="3" height="1"/><rect x="613" y="13" width="3" height="1"/><rect x="613" y="15" width="3" height="1"/><rect x="613" y="17" width="3" height="1"/>
<rect x="919" y="1" width="3" height="1"/><rect x="919" y="3" width="3" height="1"/><rect x="919" y="5" width="3" height="1"/><rect x="919" y="7" width="3" height="1"/><rect x="919" y="9" width="3" height="1"/><rect x="919" y="11" width="3" height="1"/><rect x="919" y="13" width="3" height="1"/><rect x="919" y="15" width="3" height="1"/><rect x="919" y="17" width="3" height="1"/>
</g>
</g>
<!-- new order icon -->
<path d="M15.5,1.5 h8 l3,3 v9.5 h-11 z" fill="#fff" stroke="#5a5a5a" stroke-width="1"/>
<path d="M23.5,1.5 v3 h3" fill="#ddd" stroke="#5a5a5a" stroke-width="1"/>
<rect x="17" y="3" width="2.5" height="1.5" fill="#777"/>
<g stroke="#8a8a8a" stroke-width="1"><line x1="17" y1="7.5" x2="22" y2="7.5"/><line x1="17" y1="9.5" x2="22" y2="9.5"/><line x1="17" y1="11.5" x2="20" y2="11.5"/></g>
<path d="M23.5,7.5 h3 v4 h4 v3 h-4 v4 h-3 v-4 h-4 v-3 h4 z" fill="url(#gplus)" stroke="#0a8a1a" stroke-width="1"/>
<!-- gold book -->
<path d="M87.3,2.2 L96.8,8.6 L98.2,10.8 L90,16.9 L82,11 L84.8,7.8 L85.8,4.6 Z" fill="#a8700e"/>
<path d="M87.6,3.4 L96.3,9.1 L89.6,14.2 L83.6,10.4 L86,7.6 L86.8,4.8 Z" fill="url(#ggold)"/>
<path d="M83.4,10.6 L89.7,14.6 L90,16 L83,11.7 Z" fill="#f6e6a8"/>
<path d="M90.2,14.9 L97.2,10.3 L97.7,11.6 L90.5,16.2 Z" fill="#efe0b0"/><path d="M90.4,15.6 L97.4,11" stroke="#b88a30" stroke-width="0.5"/>
<!-- blue box + cloud -->
<path d="M112,1.3 L121.2,1.2 L123.2,3 L123.2,10.5 L112,10.5 Z" fill="#1c98f4"/>
<path d="M112,1.3 L115.6,3.5 L115.6,10.5 L112,10.5 Z" fill="#0a6ed6"/>
<path d="M112.6,1.8 L115.7,3.6 L115.7,9.6 M115.7,3.6 L123,3.4" fill="none" stroke="#d8f2ff" stroke-width="0.8"/>
<rect x="117.3" y="5.9" width="4.6" height="0.9" fill="#e6f6ff"/>
<path d="M111,15.5 C109.5,15.5 109.5,12 111.5,12 C111.5,10 114.5,9.5 115.5,10.5 C116.5,8.8 120,8.8 120.5,10.8 C122.5,9.8 125.5,11 124.8,13 C126.5,13.5 126,16.5 124,16.5 H111.5 Z" fill="url(#gcloud)" stroke="#3f5b95" stroke-width="0.9"/>
<!-- radar -->
<path d="M146,8.9 L146,16.6 A7.7,7.7 0 0 0 153.7,8.9 A7.7,7.7 0 0 0 150,2.2 Z" fill="#c8e8c0" opacity="0.8"/>
<circle cx="146" cy="8.9" r="7.4" fill="none" stroke="#5a7ed8" stroke-width="1.1" opacity="0.85"/>
<path d="M153.4,8.9 A7.4,7.4 0 0 1 146,16.3" fill="none" stroke="#2a8a4a" stroke-width="1.2"/>
<circle cx="146" cy="8.9" r="4.6" fill="none" stroke="#7a9ae0" stroke-width="1" opacity="0.8"/>
<path d="M150.6,8.9 A4.6,4.6 0 0 1 146,13.5" fill="none" stroke="#3a9a5a" stroke-width="1"/>
<circle cx="146" cy="8.9" r="2" fill="#2a52c8"/>
<line x1="146.5" y1="9" x2="146.5" y2="16.6" stroke="#2aa02a" stroke-width="1.3"/>
<!-- auto trading -->
<path d="M165.3,8 L180.6,7 L176,12 L172.3,16.6 Z" fill="url(#gfun)" stroke="#c89a10" stroke-width="0.8"/>
<path d="M165,6.2 C165,3.8 169,3.2 172,3.4 C176,3.2 181.2,3 180.8,5 C180.5,7 176,7.8 172,8.2 C168,8.4 165,7.8 165,6.2 Z" fill="url(#ghat)" stroke="#2a7aa8" stroke-width="0.8"/>
<path d="M169.3,5.2 C169.3,2 170.5,1.2 172.4,1.2 C174.5,1.2 175.6,2 175.6,5.2" fill="#78c4ee" stroke="#2a7aa8" stroke-width="0.8"/>
<circle cx="177.3" cy="12.8" r="4.2" fill="url(#gstop)"/>
<rect x="176" y="11.4" width="2.8" height="2.6" fill="#fff"/>
<!-- chart type icons: bars -->
<g fill="#555">
<rect x="259" y="4" width="1" height="13"/><path d="M257.6,5.2 L259.5,2.6 L261.4,5.2 Z"/>
<rect x="257" y="14" width="13" height="1"/><path d="M268.8,12.6 L271.4,14.5 L268.8,16.4 Z"/>
</g>
<g fill="#1a9a1a"><rect x="265" y="4" width="1" height="9"/><rect x="266" y="5" width="2" height="1"/><rect x="263" y="11" width="2" height="1"/></g>
<!-- candles -->
<g fill="#555">
<rect x="287" y="4" width="1" height="13"/><path d="M285.6,5.2 L287.5,2.6 L289.4,5.2 Z"/>
<rect x="285" y="14" width="13" height="1"/><path d="M296.8,12.6 L299.4,14.5 L296.8,16.4 Z"/>
</g>
<rect x="293" y="1" width="1" height="12" fill="#138a1e"/>
<rect x="291.5" y="3.5" width="4" height="7" fill="url(#gcandle)" stroke="#138a1e" stroke-width="1"/>
<!-- line chart -->
<g fill="#555">
<rect x="315" y="4" width="1" height="13"/><path d="M313.6,5.2 L315.5,2.6 L317.4,5.2 Z"/>
<rect x="313" y="14" width="13" height="1"/><path d="M324.8,12.6 L327.4,14.5 L324.8,16.4 Z"/>
</g>
<path d="M314.3,11.6 Q317.6,6 320.2,6.1 Q322.6,6.3 325.8,10.5" fill="none" stroke="#2a9a2a" stroke-width="1.3"/>
<!-- zoom in / out -->
<g>
<line x1="355" y1="11.3" x2="360" y2="16.3" stroke="#a07810" stroke-width="3.2"/>
<line x1="355" y1="11.3" x2="360" y2="16.3" stroke="#f0d040" stroke-width="1.8"/>
<circle cx="351" cy="7" r="5.2" fill="url(#glens)" stroke="#3b7fc4" stroke-width="1.2"/>
<path d="M348,7 h6 M351,4 v6" stroke="#4a88b8" stroke-width="1.8"/>
<line x1="383" y1="11.3" x2="388" y2="16.3" stroke="#a07810" stroke-width="3.2"/>
<line x1="383" y1="11.3" x2="388" y2="16.3" stroke="#f0d040" stroke-width="1.8"/>
<circle cx="379" cy="7" r="5.2" fill="url(#glens)" stroke="#3b7fc4" stroke-width="1.2"/>
<path d="M376,7 h6" stroke="#4a88b8" stroke-width="1.8"/>
</g>
<!-- tile windows -->
<defs>
<linearGradient id="tgr" x1="0" y1="0" x2="1" y2="1"><stop offset="0" stop-color="#5cc22a"/><stop offset="1" stop-color="#2e8e08"/></linearGradient>
<linearGradient id="tbl" x1="0" y1="0" x2="1" y2="1"><stop offset="0" stop-color="#4a86ee"/><stop offset="1" stop-color="#0a36c0"/></linearGradient>
</defs>
<rect x="401.1" y="1.1" width="7.8" height="7.8" rx="1.2" fill="url(#tgr)"/>
<rect x="409.1" y="1.1" width="7.8" height="7.8" rx="1.2" fill="url(#tbl)"/>
<rect x="401.1" y="9.1" width="7.8" height="7.8" rx="1.2" fill="url(#tbl)"/>
<rect x="409.1" y="9.1" width="7.8" height="7.8" rx="1.2" fill="url(#tgr)"/>
<g fill="#fff">
<path d="M402.2,4.1 h5.6 v3.8 h-1 l-0.6,-0.8 h-2.4 l-0.6,0.8 h-1 z"/>
<path d="M410.2,4.1 h5.6 v3.8 h-1 l-0.6,-0.8 h-2.4 l-0.6,0.8 h-1 z"/>
<path d="M402.2,12.1 h5.6 v3.8 h-1 l-0.6,-0.8 h-2.4 l-0.6,0.8 h-1 z"/>
<path d="M410.2,12.1 h5.6 v3.8 h-1 l-0.6,-0.8 h-2.4 l-0.6,0.8 h-1 z"/>
<circle cx="402.6" cy="2.5" r="0.55"/><circle cx="410.6" cy="2.5" r="0.55"/><circle cx="402.6" cy="10.5" r="0.55"/><circle cx="410.6" cy="10.5" r="0.55"/>
</g>
<g fill="#a8dc90"><rect x="403.2" y="5.1" width="3.8" height="0.9" rx="0.4"/><rect x="411.2" y="13.1" width="3.8" height="0.9" rx="0.4"/></g>
<g fill="#90aef0"><circle cx="411.5" cy="5.5" r="0.5"/><rect x="412.8" y="5.1" width="2" height="0.9" rx="0.4"/><circle cx="403.5" cy="13.5" r="0.5"/><rect x="404.8" y="13.1" width="2" height="0.9" rx="0.4"/></g>
<!-- autoscroll -->
<g fill="#555">
<rect x="439" y="4" width="1" height="13"/><path d="M437.6,5.2 L439.5,2.6 L441.4,5.2 Z"/>
<rect x="437" y="14" width="13" height="1"/><path d="M448.8,12.6 L451.4,14.5 L448.8,16.4 Z"/>
</g>
<path d="M444.5,5.5 L448.5,8.5 L444.5,11.5 Z" fill="#6fe07a" stroke="#1a9a1a" stroke-width="1"/>
<!-- chart shift -->
<g fill="#555">
<rect x="467" y="4" width="1" height="13"/><path d="M465.6,5.2 L467.5,2.6 L469.4,5.2 Z"/>
<rect x="465" y="14" width="13" height="1"/><path d="M476.8,12.6 L479.4,14.5 L476.8,16.4 Z"/>
</g>
<rect x="473" y="3" width="1" height="10" fill="#1a6aa8"/>
<path d="M474,8.5 L477,6.3 L476.5,8 L479,8 L479,9 L476.5,9 L477,10.7 Z" fill="#e85a10"/>
<!-- indicators -->
<path d="M498.5,1.5 h7.5 l3,3 v10 h-10.5 z" fill="#fff" stroke="#7a7a7a" stroke-width="1" stroke-linejoin="round"/><path d="M506,1.5 v3 h3" fill="#e0e0e0" stroke="#7a7a7a" stroke-width="1"/>
<path d="M501.6,11.6 V5.6 Q501.9,4.1 503.8,4" fill="none" stroke="#3a3222" stroke-width="1"/><path d="M500.4,7.6 H503.4" stroke="#5a5040" stroke-width="0.8"/>
<path d="M506.5,7.5 h3 v4 h4 v3 h-4 v4 h-3 v-4 h-4 v-3 h4 z" fill="url(#gplus)" stroke="#0a8a1a" stroke-width="1"/>
<!-- clock -->
<circle cx="544" cy="9" r="6.7" fill="#fff" stroke="url(#gclock)" stroke-width="2.8"/>
<circle cx="544" cy="9" r="8" fill="none" stroke="#0a3c90" stroke-width="0.6" opacity="0.6"/>
<path d="M543.6,4.6 V9.2 L546.6,9.9" fill="none" stroke="#2a2a2a" stroke-width="1.1"/>
<g fill="#9a9a9a"><rect x="543.5" y="3.2" width="1" height="0.9"/><rect x="543.5" y="13.6" width="1" height="0.9"/><rect x="538.7" y="8.5" width="0.9" height="1"/><rect x="548.4" y="8.5" width="0.9" height="1"/></g>
<rect x="542.6" y="12.8" width="2.6" height="0.8" fill="#7ab0ff"/>
<!-- template -->
<rect x="575.5" y="2.5" width="15" height="13" fill="#fff" stroke="#3a78c0" stroke-width="1"/>
<rect x="576" y="3" width="14" height="2" fill="#a8c8ec"/>
<rect x="576" y="9.5" width="14" height="1" fill="#3a78c0"/>
<path d="M577.5,8.5 L579,8.5 L581,7.5 L582.5,7.5 L583.5,6.5 L585,7.5 L586.5,7.5 L588.5,6.5" fill="none" stroke="#b02a10" stroke-width="1"/>
<path d="M578,13.5 L580,12.5 L581.5,13.5 L583,12.5 L585,11.2 L586.5,12.5 L588,13.5" fill="none" stroke="#1a9a2a" stroke-width="1"/>
<!-- dropdown arrows -->
<g fill="#000" shape-rendering="crispEdges">
<rect x="520" y="8" width="5" height="1"/><rect x="521" y="9" width="3" height="1"/><rect x="522" y="10" width="1" height="1"/>
<rect x="559" y="8" width="5" height="1"/><rect x="560" y="9" width="3" height="1"/><rect x="561" y="10" width="1" height="1"/>
<rect x="598" y="8" width="5" height="1"/><rect x="599" y="9" width="3" height="1"/><rect x="600" y="10" width="1" height="1"/>
<rect x="904" y="8" width="5" height="1"/><rect x="905" y="9" width="3" height="1"/><rect x="906" y="10" width="1" height="1"/>
</g>
<!-- cursor arrow -->
<path d="M627,2 L627,13 L629.8,10.6 L632,16 L634,15.1 L631.9,9.9 L635.5,9.6 Z" fill="#4a4a4a"/>
<!-- crosshair -->
<g fill="#4a4a4a" shape-rendering="crispEdges">
<rect x="659" y="2" width="1" height="6"/><rect x="659" y="11" width="1" height="6"/>
<rect x="652" y="9" width="6" height="1"/><rect x="661" y="9" width="6" height="1"/>
<rect x="659" y="9" width="1" height="1"/>
</g>
<!-- vertical / horizontal / trend -->
<rect x="692.8" y="3" width="1.5" height="13" fill="#4a4a4a"/>
<rect x="716" y="8.9" width="12" height="1.3" fill="#4a4a4a"/>
<line x1="744" y1="15.8" x2="756" y2="3.7" stroke="#505050" stroke-width="1"/>
<!-- channel E -->
<g stroke="#4a4a4a" stroke-width="1.1" fill="none">
<line x1="770" y1="10.6" x2="777.7" y2="2.9"/>
<line x1="775" y1="15.7" x2="783.8" y2="7.2"/>
<path d="M772,14 L773.5,9 M774.8,12.5 L776.3,7.5 M777.5,11 L779,6 M781.3,1 L781,8"/>
</g>
<text x="780.6" y="17.8" font-family="Liberation Sans, sans-serif" font-weight="bold" font-size="6.8" fill="#4a4a4a">E</text>
<!-- fibo F -->
<g fill="#4a4a4a" shape-rendering="crispEdges">
<rect x="799" y="2" width="1" height="1"/><rect x="801" y="2" width="1" height="1"/><rect x="803" y="2" width="1" height="1"/><rect x="805" y="2" width="1" height="1"/><rect x="807" y="2" width="1" height="1"/><rect x="809" y="2" width="1" height="1"/><rect x="811" y="2" width="1" height="1"/>
<rect x="799" y="5" width="1" height="1"/><rect x="801" y="5" width="1" height="1"/><rect x="803" y="5" width="1" height="1"/><rect x="805" y="5" width="1" height="1"/><rect x="807" y="5" width="1" height="1"/><rect x="809" y="5" width="1" height="1"/><rect x="811" y="5" width="1" height="1"/>
<rect x="799" y="9" width="1" height="1"/><rect x="801" y="9" width="1" height="1"/><rect x="803" y="9" width="1" height="1"/><rect x="805" y="9" width="1" height="1"/><rect x="807" y="9" width="1" height="1"/><rect x="809" y="9" width="1" height="1"/><rect x="811" y="9" width="1" height="1"/>
<rect x="799" y="13" width="1" height="1"/><rect x="801" y="13" width="1" height="1"/><rect x="803" y="13" width="1" height="1"/><rect x="805" y="13" width="1" height="1"/><rect x="807" y="13" width="1" height="1"/>
</g>
<text x="808.6" y="17.6" font-family="Liberation Sans, sans-serif" font-weight="bold" font-size="6.8" fill="#4a4a4a">F</text>
<!-- A -->
<text x="829.9" y="13.8" font-family="Liberation Sans, sans-serif" font-size="11.6" fill="#4f4f4f" stroke="#4f4f4f" stroke-width="0.45">A</text>
<!-- T box -->
<g fill="#4a4a4a" shape-rendering="crispEdges">
<rect x="855" y="2" width="2" height="2"/>
<rect x="858" y="3" width="1" height="1"/><rect x="860" y="3" width="1" height="1"/><rect x="862" y="3" width="1" height="1"/><rect x="864" y="3" width="1" height="1"/><rect x="866" y="3" width="1" height="1"/>
<rect x="856" y="5" width="1" height="1"/><rect x="856" y="7" width="1" height="1"/><rect x="856" y="9" width="1" height="1"/><rect x="856" y="11" width="1" height="1"/><rect x="856" y="13" width="1" height="1"/><rect x="856" y="15" width="1" height="1"/>
<rect x="867" y="5" width="1" height="1"/><rect x="867" y="7" width="1" height="1"/><rect x="867" y="9" width="1" height="1"/><rect x="867" y="11" width="1" height="1"/><rect x="867" y="13" width="1" height="1"/>
<rect x="858" y="15" width="1" height="1"/><rect x="860" y="15" width="1" height="1"/><rect x="862" y="15" width="1" height="1"/><rect x="864" y="15" width="1" height="1"/><rect x="866" y="15" width="1" height="1"/>
<rect x="858" y="6" width="8" height="1"/><rect x="861" y="6" width="2" height="8"/>
</g>
<!-- arrows/check -->
<path d="M886.3,3 L883,6.7 L889.7,6.7 Z M885,6.5 h2.6 v1.2 h-2.6 Z" fill="#4a4a4a"/>
<path d="M885.3,10.3 L887.4,12.5 L891.6,7.4" fill="none" stroke="#4a4a4a" stroke-width="1.2"/>
<path d="M890.2,12.4 L896.8,12.4 L893.5,15.8 Z M892.2,11 h2.6 v1.5 h-2.6 Z" fill="#4a4a4a"/>
<text transform="translate(930.11,12.80) scale(0.9616,1.0029)" font-family="'Liberation Sans', sans-serif" font-size="10" fill="#333" text-rendering="geometricPrecision">M1</text>
<text transform="translate(958.22,12.70) scale(0.9564,0.9889)" font-family="'Liberation Sans', sans-serif" font-size="10" fill="#333" text-rendering="geometricPrecision">M5</text>
<text transform="translate(984.23,12.70) scale(0.9389,0.9889)" font-family="'Liberation Sans', sans-serif" font-size="10" fill="#333" text-rendering="geometricPrecision">M15</text>
<text transform="translate(1011.50,12.70) scale(0.9812,0.9746)" font-family="'Liberation Sans', sans-serif" font-size="10" fill="#333" text-rendering="geometricPrecision">M30</text>
<text transform="translate(1042.89,12.80) scale(0.9935,1.0029)" font-family="'Liberation Sans', sans-serif" font-size="10" fill="#333" text-rendering="geometricPrecision">H1</text>
<text transform="translate(1070.05,12.80) scale(1.0369,1.0029)" font-family="'Liberation Sans', sans-serif" font-size="10" fill="#333" text-rendering="geometricPrecision">H4</text>
<text transform="translate(1098.99,12.80) scale(0.9848,1.0029)" font-family="'Liberation Sans', sans-serif" font-size="10" fill="#333" text-rendering="geometricPrecision">D1</text>
<text transform="translate(1126.96,12.80) scale(0.9677,1.0029)" font-family="'Liberation Sans', sans-serif" font-size="10" fill="#333" text-rendering="geometricPrecision">W1</text>
<text transform="translate(1153.18,12.80) scale(0.9988,1.0029)" font-family="'Liberation Sans', sans-serif" font-size="10" fill="#333" text-rendering="geometricPrecision">MN</text>
<text transform="translate(33.39,12.05) scale(1.0345,1.0022)" font-family="'Liberation Sans','Noto Sans CJK SC',sans-serif" font-size="12" fill="#000" text-rendering="geometricPrecision" stroke="#000" stroke-width="0.28">新订单</text>
<text transform="translate(184.46,12.00) scale(1.0442,0.9814)" font-family="'Liberation Sans','Noto Sans CJK SC',sans-serif" font-size="12" fill="#000" text-rendering="geometricPrecision" stroke="#000" stroke-width="0.28">自动交易</text>
<!-- search -->
<line x1="1640.2" y1="13.7" x2="1643.4" y2="10.5" stroke="#2a5ad0" stroke-width="2.2" stroke-linecap="round"/>
<circle cx="1646.4" cy="6.3" r="3.9" fill="#fff" stroke="#2a62d8" stroke-width="1.3"/>
<!-- chat + badge -->
<path d="M1667,16.5 L1667.8,14.6 C1664.2,14 1663.2,11.6 1663.6,9.8 C1664.2,6.6 1668,5.6 1671,6 L1676,12 C1674,14.6 1671,15 1669.3,14.8 Z" fill="url(#gbub)" stroke="#a8a8a8" stroke-width="0.8"/>
<circle cx="1677.4" cy="6.4" r="8.4" fill="url(#gbadge)"/>
<text x="1673.3" y="11" font-family="Liberation Serif, serif" font-weight="bold" font-size="14" fill="#fff" text-rendering="geometricPrecision">1</text>
</svg>
</div>
</body></html>
